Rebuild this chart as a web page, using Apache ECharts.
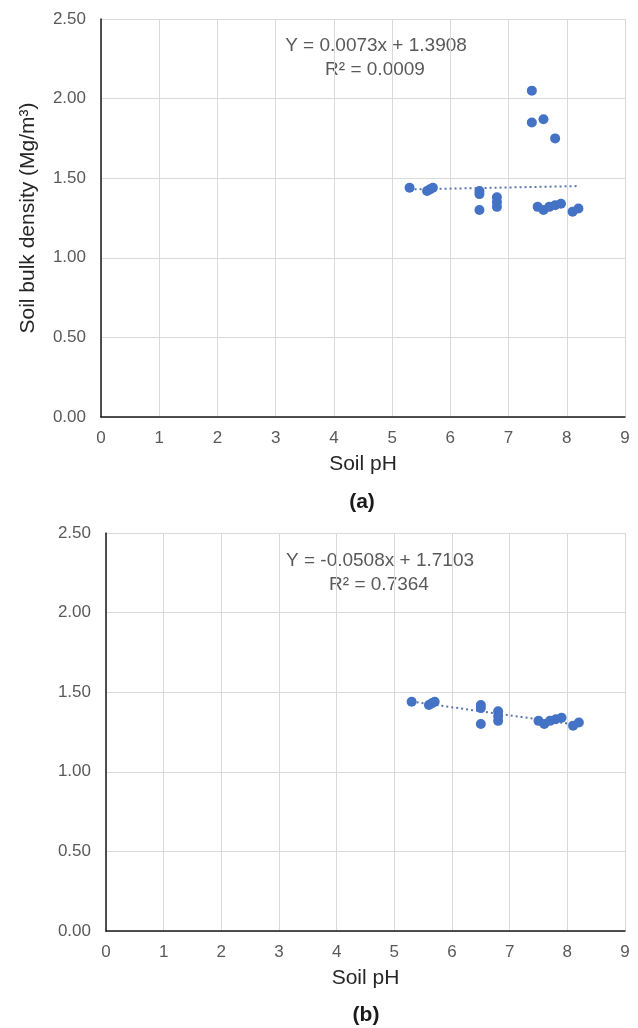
<!DOCTYPE html>
<html>
<head>
<meta charset="utf-8">
<script src="https://cdn.jsdelivr.net/npm/echarts@6/dist/echarts.min.js"></script>
<style>
html,body{margin:0;padding:0;background:#fff;}
#pic_chart{width:638px;height:1028px;}
</style>
</head>
<body>
<div id="pic_chart"></div>
<script>
// soil pH vs bulk density
var phMain = [5.3, 5.6, 5.65, 5.7, 6.5, 6.5, 6.5, 6.8, 6.8, 6.8, 7.5, 7.6, 7.7, 7.8, 7.9, 8.1, 8.2];
var bdMain = [1.44, 1.42, 1.43, 1.44, 1.42, 1.40, 1.30, 1.38, 1.35, 1.32, 1.32, 1.30, 1.32, 1.33, 1.34, 1.29, 1.31];
// extra high-density points only in panel (a)
var phHigh = [7.4, 7.4, 7.6, 7.8];
var bdHigh = [2.05, 1.85, 1.87, 1.75];

var fitA = {slope: 0.0073, icpt: 1.3908, r2: '0.0009'};
var fitB = {slope: -0.0508, icpt: 1.7103, r2: '0.7364'};
var xTicks = [0, 1, 2, 3, 4, 5, 6, 7, 8, 9];
var yTicks = ['0.00', '0.50', '1.00', '1.50', '2.00', '2.50'];

var font = '"Liberation Sans", Arial, sans-serif';
var dotColor = '#4472c4';

function pairs(xs, ys) {
    return xs.map(function (x, i) { return [x, ys[i]]; });
}
function trend(fit, xs) {
    var lo = Math.min.apply(null, xs), hi = Math.max.apply(null, xs);
    return [[lo, fit.slope * lo + fit.icpt], [hi, fit.slope * hi + fit.icpt]];
}
function eqLines(fit) {
    var s = fit.slope < 0 ? '-' + Math.abs(fit.slope).toFixed(4) : fit.slope.toFixed(4);
    return ['Y = ' + s + 'x + ' + fit.icpt.toFixed(4), 'R\u00b2 = ' + fit.r2];
}
function label(txt, x, y, f, col) {
    return {type: 'text', x: x, y: y,
        style: {text: txt, font: f, fill: col, align: 'center', verticalAlign: 'middle'}};
}

function xAxisCfg(idx) {
    return {
        gridIndex: idx, type: 'value', min: 0, max: 9, interval: 1,
        name: 'Soil pH', nameLocation: 'middle', nameGap: 37,
        nameTextStyle: {fontFamily: font, fontSize: 21, color: '#262626'},
        axisLine: {show: true, onZero: false, lineStyle: {color: '#1a1a1a', width: 1.5}},
        axisTick: {show: false},
        axisLabel: {fontFamily: font, fontSize: 17, color: '#595959', margin: 13,
            formatter: function (v) { return xTicks.indexOf(v) >= 0 ? String(v) : ''; }},
        splitLine: {show: true, lineStyle: {color: '#d9d9d9', width: 1}}
    };
}
function yAxisCfg(idx, withName) {
    return {
        gridIndex: idx, type: 'value', min: 0, max: 2.5, interval: 0.5,
        name: withName ? 'Soil bulk density (Mg/m\u00b3)' : '',
        nameLocation: 'middle', nameGap: 62,
        nameTextStyle: {fontFamily: font, fontSize: 21, color: '#262626'},
        axisLine: {show: true, lineStyle: {color: '#1a1a1a', width: 1.5}},
        axisTick: {show: false},
        axisLabel: {fontFamily: font, fontSize: 17, color: '#595959', margin: 15,
            formatter: function (v) { return yTicks[Math.round(v / 0.5)]; }},
        splitLine: {show: true, lineStyle: {color: '#d9d9d9', width: 1}}
    };
}
function dots(idx, data) {
    return {type: 'scatter', xAxisIndex: idx, yAxisIndex: idx, data: data,
        symbolSize: 10, itemStyle: {color: dotColor, opacity: 1}, z: 3};
}
function line(idx, data) {
    return {type: 'line', xAxisIndex: idx, yAxisIndex: idx, data: data, symbol: 'none',
        lineStyle: {color: '#5b77ad', width: 2, type: [2, 3]}, z: 2};
}

var eqA = eqLines(fitA), eqB = eqLines(fitB);
var eqFont = '19px ' + font;

var myChart = echarts.init(document.getElementById('pic_chart'));
var option = {
    backgroundColor: '#fff',
    animation: false,
    grid: [
        {left: 101, top: 19, right: 13, bottom: 611},
        {left: 106, top: 533, right: 13, bottom: 97}
    ],
    xAxis: [xAxisCfg(0), xAxisCfg(1)],
    yAxis: [yAxisCfg(0, true), yAxisCfg(1, false)],
    graphic: [
        label(eqA[0], 376, 46, eqFont, '#595959'),
        label(eqA[1], 375, 70, eqFont, '#595959'),
        label(eqB[0], 380, 561, eqFont, '#595959'),
        label(eqB[1], 379, 585, eqFont, '#595959'),
        label('(a)', 362, 502, 'bold 21px ' + font, '#1a1a1a'),
        label('(b)', 366, 1015, 'bold 21px ' + font, '#1a1a1a')
    ],
    series: [
        line(0, trend(fitA, phMain)),
        dots(0, pairs(phMain, bdMain).concat(pairs(phHigh, bdHigh))),
        line(1, trend(fitB, phMain)),
        dots(1, pairs(phMain, bdMain))
    ]
};
myChart.setOption(option);
</script>
</body>
</html>
